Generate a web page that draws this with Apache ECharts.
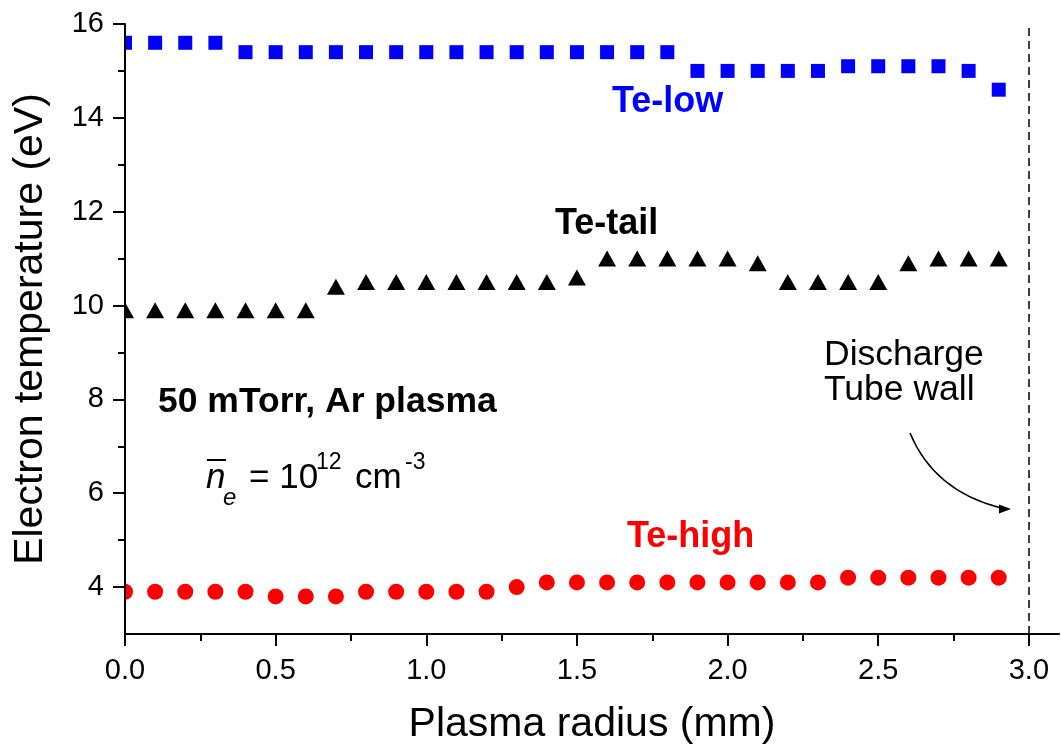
<!DOCTYPE html>
<html>
<head>
<meta charset="utf-8">
<script src="https://cdn.jsdelivr.net/npm/echarts@6.0.0/dist/echarts.min.js"></script>
<style>
    html, body { margin: 0; padding: 0; background: #fff; }
    #chart { width: 1061px; height: 754px; }
</style>
</head>
<body>
<div id="chart"></div>
<script>
// Plasma radius (mm) of each probe point
var radius = [0.0, 0.1, 0.2, 0.3, 0.4, 0.5, 0.6, 0.7, 0.8, 0.9,
              1.0, 1.1, 1.2, 1.3, 1.4, 1.5, 1.6, 1.7, 1.8, 1.9,
              2.0, 2.1, 2.2, 2.3, 2.4, 2.5, 2.6, 2.7, 2.8, 2.9];

// Electron temperature (eV)
var teLow = [15.6, 15.6, 15.6, 15.6, 15.4, 15.4, 15.4, 15.4, 15.4, 15.4,
             15.4, 15.4, 15.4, 15.4, 15.4, 15.4, 15.4, 15.4, 15.4, 15.0,
             15.0, 15.0, 15.0, 15.0, 15.1, 15.1, 15.1, 15.1, 15.0, 14.6];
var teTail = [9.9, 9.9, 9.9, 9.9, 9.9, 9.9, 9.9, 10.4, 10.5, 10.5,
              10.5, 10.5, 10.5, 10.5, 10.5, 10.6, 11.0, 11.0, 11.0, 11.0,
              11.0, 10.9, 10.5, 10.5, 10.5, 10.5, 10.9, 11.0, 11.0, 11.0];
var teHigh = [3.9, 3.9, 3.9, 3.9, 3.9, 3.8, 3.8, 3.8, 3.9, 3.9,
              3.9, 3.9, 3.9, 4.0, 4.1, 4.1, 4.1, 4.1, 4.1, 4.1,
              4.1, 4.1, 4.1, 4.1, 4.2, 4.2, 4.2, 4.2, 4.2, 4.2];

// ticks
var xMajor = [0, 0.5, 1.0, 1.5, 2.0, 2.5, 3.0];
var xMinor = [0.25, 0.75, 1.25, 1.75, 2.25, 2.75];
var yMajor = [4, 6, 8, 10, 12, 14, 16];
var yMinor = [5, 7, 9, 11, 13, 15];
var wallPos = 3.0;

var font = '"Liberation Sans", Arial, sans-serif';

function pairs(vals) {
    return radius.map(function (r, i) {
        return [r, vals[i]];
    });
}

function label(x, y, text, size, weight, color, style) {
    return {
        type: 'text', x: x, y: y, z: 6, silent: true,
        style: {
            text: text,
            fill: color || '#000',
            font: (style || 'normal') + ' ' + (weight || 'normal') + ' ' + size + 'px ' + font,
            align: 'left',
            verticalAlign: 'middle'
        }
    };
}

var tickStyle = { color: '#000', width: 2 };

echarts.init(document.querySelector('#chart')).setOption({
    animation: false,
    backgroundColor: '#fff',
    grid: { left: 125, right: 2, top: 24, bottom: 120 },
    xAxis: [{
        type: 'value', min: 0, max: 3.1, z: 5,
        name: 'Plasma radius (mm)', nameLocation: 'middle', nameGap: 70,
        nameTextStyle: { fontFamily: font, fontSize: 41, color: '#000' },
        axisLine: { onZero: false, lineStyle: { color: '#000', width: 2 } },
        axisTick: { customValues: xMajor, length: 12, lineStyle: tickStyle },
        axisLabel: {
            customValues: xMajor, margin: 22,
            fontFamily: font, fontSize: 29, color: '#000',
            formatter: function (v) { return v.toFixed(1); }
        },
        splitLine: { show: false }
    }, {
        // minor ticks, moved down onto the bottom axis
        type: 'value', min: 0, max: 3.1, z: 5, position: 'top', offset: -610,
        axisLine: { show: false, onZero: false },
        axisTick: { customValues: xMinor, inside: true, length: 7, lineStyle: tickStyle },
        axisLabel: { show: false },
        splitLine: { show: false }
    }],
    yAxis: [{
        type: 'value', min: 3, max: 16, z: 5, position: 'left',
        name: 'Electron temperature (eV)', nameLocation: 'middle', nameGap: 74,
        nameTextStyle: { fontFamily: font, fontSize: 41, color: '#000' },
        axisLine: { show: true, onZero: false, lineStyle: { color: '#000', width: 2 } },
        axisTick: { customValues: yMajor, length: 12, lineStyle: tickStyle },
        axisLabel: { customValues: yMajor, margin: 21, fontFamily: font, fontSize: 29, color: '#000' },
        splitLine: { show: false }
    }, {
        type: 'value', min: 3, max: 16, z: 5, position: 'right', offset: -934,
        axisLine: { show: false, onZero: false },
        axisTick: { customValues: yMinor, inside: true, length: 7, lineStyle: tickStyle },
        axisLabel: { show: false },
        splitLine: { show: false }
    }],
    series: [{
        name: 'Te-low', type: 'scatter',
        symbol: 'rect', symbolSize: 14,
        itemStyle: { color: '#0000ff', opacity: 1 },
        data: pairs(teLow),
        markLine: {
            silent: true, symbol: 'none', label: { show: false },
            lineStyle: { color: '#000', width: 1.5, type: [8, 5], opacity: 1 },
            data: [{ xAxis: wallPos }]
        }
    }, {
        name: 'Te-tail', type: 'scatter',
        symbol: 'triangle', symbolSize: [18, 16],
        itemStyle: { color: '#000', opacity: 1 },
        data: pairs(teTail)
    }, {
        name: 'Te-high', type: 'scatter',
        symbol: 'circle', symbolSize: 16,
        itemStyle: { color: '#ff0000', opacity: 1 },
        data: pairs(teHigh)
    }],
    graphic: [
        // hide the part of the markers left of the y axis
        { type: 'rect', z: 3, silent: true, shape: { x: 0, y: 0, width: 124, height: 754 }, style: { fill: '#fff' } },
        label(612, 102, 'Te-low', 36, 'bold', '#0000ff'),
        label(555, 224, 'Te-tail', 36, 'bold', '#000'),
        label(627, 537, 'Te-high', 36, 'bold', '#ff0000'),
        label(158, 402, '50 mTorr, Ar plasma', 35.5, 'bold', '#000'),
        label(206, 478, 'n', 35, 'normal', '#000', 'italic'),
        label(223, 498, 'e', 24, 'normal', '#000', 'italic'),
        label(249, 478, '= 10', 35),
        label(316, 463, '12', 23),
        label(355, 478, 'cm', 35),
        label(405, 463, '-3', 23),
        { type: 'line', z: 6, silent: true, shape: { x1: 207, y1: 460, x2: 226, y2: 460 }, style: { stroke: '#000', lineWidth: 2 } },
        label(824, 355, 'Discharge', 35.5),
        label(824, 390, 'Tube wall', 35.5),
        { type: 'bezierCurve', z: 6, silent: true,
          shape: { x1: 910, y1: 433, cpx1: 934, cpy1: 491, x2: 1001, y2: 508 },
          style: { stroke: '#000', lineWidth: 1.5, fill: 'none' } },
        { type: 'polygon', z: 6, silent: true,
          shape: { points: [[1011, 509], [999, 504.5], [999, 513.5]] },
          style: { fill: '#000' } }
    ]
});
</script>
</body>
</html>
